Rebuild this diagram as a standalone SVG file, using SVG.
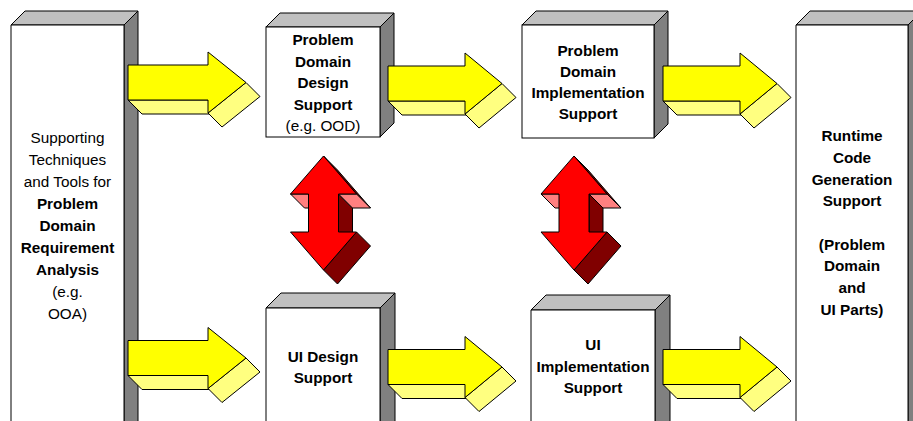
<svg xmlns="http://www.w3.org/2000/svg" width="913" height="421" viewBox="0 0 913 421">
<style>
 .front{fill:#fff;stroke:#000;stroke-width:1}
 .top{fill:#c0c0c0;stroke:#000;stroke-width:1;stroke-linejoin:round}
 .side{fill:#808080;stroke:#000;stroke-width:1;stroke-linejoin:round}
 text{font-family:"Liberation Sans",Arial,sans-serif;font-size:15.3px;text-anchor:middle;fill:#000}
 .b{font-weight:bold}
 .y{fill:#ffff00;stroke:#000;stroke-width:1;stroke-linejoin:round}
 .ly{fill:#ffff80;stroke:#000;stroke-width:1;stroke-linejoin:round}
 .r{fill:#ff0000;stroke:#000;stroke-width:1;stroke-linejoin:round}
 .pk{fill:#ff8080;stroke:#000;stroke-width:1;stroke-linejoin:round}
 .dr{fill:#800000;stroke:#000;stroke-width:1;stroke-linejoin:round}
</style>
<defs>
 <g id="arrL">
  <polygon class="ly" points="0,17.5 14,31.5 94,31.5 80,17.5"/>
  <polygon class="ly" points="80,30.5 118,0 132,14 94,44.5"/>
  <polygon class="y" points="0,-17.5 80,-17.5 80,-30.5 118,0 80,30.5 80,17.5 0,17.5"/>
 </g>
 <g id="arrS">
  <polygon class="ly" points="0,17.5 14,31.5 91,31.5 77,17.5"/>
  <polygon class="ly" points="77,30.5 114,0 128,14 91,44.5"/>
  <polygon class="y" points="0,-17.5 77,-17.5 77,-30.5 114,0 77,30.5 77,17.5 0,17.5"/>
 </g>
 <g id="dbl">
  <polygon class="dr" points="0,0 33,38 47,52 14,14"/>
  <polygon class="dr" points="15,38 29,52 29,90 15,76"/>
  <polygon class="dr" points="0,114 33,76 47,90 14,128"/>
  <polygon class="pk" points="-33,38 -15,38 -1,52 -19,52"/>
  <polygon class="pk" points="15,38 33,38 47,52 29,52"/>
  <polygon class="r" points="0,0 33,38 15,38 15,76 33,76 0,114 -33,76 -15,76 -15,38 -33,38"/>
 </g>
</defs>
<rect width="913" height="421" fill="#fff"/>

<g id="analysis">
 <polygon class="top" points="11,25 25,11 138,11 124,25"/>
 <path class="side" d="M124,430 V25 L138,11 V430"/>
 <path class="front" d="M11,430 V25 H124 V430"/>
 <text x="67.5" y="143">Supporting</text>
 <text x="67.5" y="165">Techniques</text>
 <text x="67.5" y="187">and Tools for</text>
 <text class="b" x="67.5" y="209">Problem</text>
 <text class="b" x="67.5" y="231">Domain</text>
 <text class="b" x="67.5" y="253">Requirement</text>
 <text class="b" x="67.5" y="275">Analysis</text>
 <text x="67.5" y="297">(e.g.</text>
 <text x="67.5" y="319">OOA)</text>
</g>

<g id="pd-design">
 <polygon class="top" points="266,27 280,13 394,13 380,27"/>
 <polygon class="side" points="380,27 394,13 394,123 380,137"/>
 <rect class="front" x="266" y="27" width="114" height="110"/>
 <text class="b" x="323" y="45">Problem</text>
 <text class="b" x="323" y="66.5">Domain</text>
 <text class="b" x="323" y="88">Design</text>
 <text class="b" x="323" y="109.5">Support</text>
 <text x="323" y="131">(e.g. OOD)</text>
</g>

<g id="pd-impl">
 <polygon class="top" points="522,25 536,11 668,11 654,25"/>
 <polygon class="side" points="654,25 668,11 668,124 654,138"/>
 <rect class="front" x="522" y="25" width="132" height="113"/>
 <text class="b" x="588" y="56">Problem</text>
 <text class="b" x="588" y="77">Domain</text>
 <text class="b" x="588" y="98">Implementation</text>
 <text class="b" x="588" y="119">Support</text>
</g>

<g id="ui-design">
 <polygon class="top" points="266,308 281,293 395,293 380,308"/>
 <path class="side" d="M380,430 V308 L395,293 V430"/>
 <path class="front" d="M266,430 V308 H380 V430"/>
 <text class="b" x="323" y="362">UI Design</text>
 <text class="b" x="323" y="383">Support</text>
</g>

<g id="ui-impl">
 <polygon class="top" points="531,310 546,295 670,295 655,310"/>
 <path class="side" d="M655,430 V310 L670,295 V430"/>
 <path class="front" d="M531,430 V310 H655 V430"/>
 <text class="b" x="593" y="350">UI</text>
 <text class="b" x="593" y="371.5">Implementation</text>
 <text class="b" x="593" y="393">Support</text>
</g>

<g id="runtime">
 <polygon class="top" points="796,25 810,11 922,11 908,25"/>
 <path class="side" d="M908,430 V25 L922,11 V430"/>
 <path class="front" d="M796,430 V25 H908 V430"/>
 <text class="b" x="852" y="141">Runtime</text>
 <text class="b" x="852" y="162.8">Code</text>
 <text class="b" x="852" y="184.6">Generation</text>
 <text class="b" x="852" y="206.4">Support</text>
 <text class="b" x="852" y="249.5">(Problem</text>
 <text class="b" x="852" y="271.3">Domain</text>
 <text class="b" x="852" y="293.1">and</text>
 <text class="b" x="852" y="314.9">UI Parts)</text>
</g>

<g id="connectors">
 <use href="#arrL" transform="translate(128,82.5)"/>
 <use href="#arrL" transform="translate(128,358)"/>
 <use href="#arrS" transform="translate(388,83.5)"/>
 <use href="#arrS" transform="translate(388,367)"/>
 <use href="#arrS" transform="translate(663,83.5)"/>
 <use href="#arrS" transform="translate(663,367)"/>
 <use href="#dbl" transform="translate(323.5,156)"/>
 <use href="#dbl" transform="translate(574,156)"/>
</g>
</svg>
